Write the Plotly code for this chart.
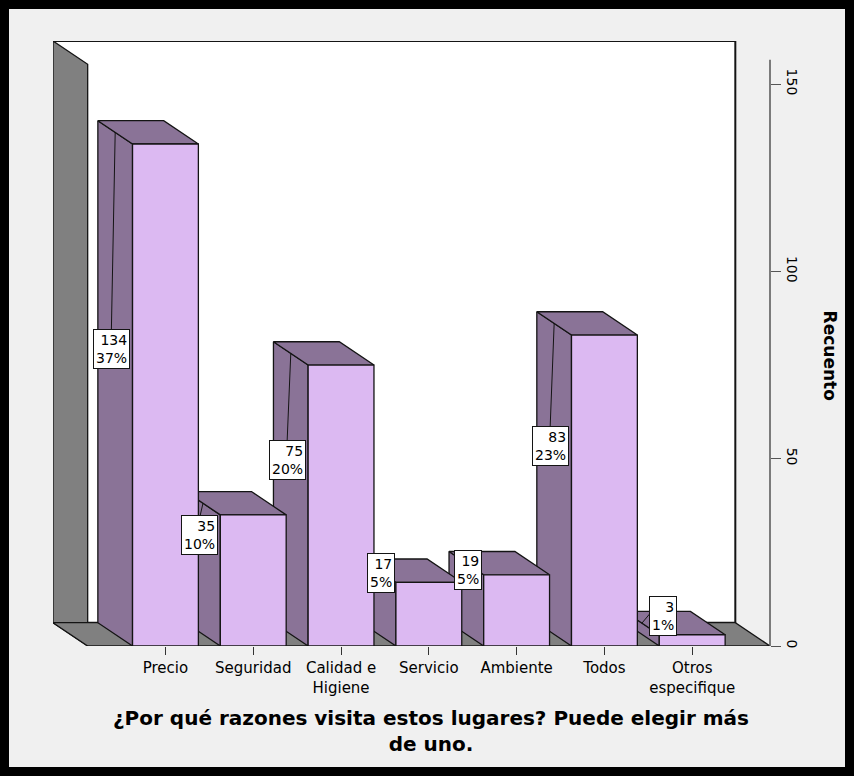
import plotly.graph_objects as go

# ---- data ----
categories = ["Precio", "Seguridad", "Calidad e<br>Higiene", "Servicio",
              "Ambiente", "Todos", "Otros<br>especifique"]
counts = [134, 35, 75, 17, 19, 83, 3]
percents = ["37%", "10%", "20%", "5%", "5%", "23%", "1%"]
y_ticks = [0, 50, 100, 150]

# ---- label placement (layout only) ----
label_dx = [-0.616, -0.608, -0.614, -0.545, -0.557, -0.618, -0.330]
label_y = [79.4, 29.5, 49.7, 19.5, 20.3, 53.5, 7.9]

# ---- geometry / style ----
W = 0.375            # half bar width (category units)
DX, DY = -0.395, 6.22  # oblique depth offset (data units)
X_MIN, X_MAX = -0.886, 6.886
Y_TOP = 161.5
FRONT = "#dcb9f2"
SIDE = "#8a7397"
GRAY = "#808080"
EDGE = "#141414"
FONT = "DejaVu Sans"

fig = go.Figure()


def poly(xs, ys, fill, width=1.3, color=EDGE):
    fig.add_trace(go.Scatter(
        x=xs + [xs[0]], y=ys + [ys[0]], mode="lines", fill="toself",
        fillcolor=fill, line=dict(color=color, width=width),
        hoverinfo="skip", showlegend=False))


# back wall
bx0, bx1 = X_MIN + DX, X_MAX + DX
poly([bx0, bx0, bx1, bx1], [DY, Y_TOP, Y_TOP, DY], "white", 2)
# left wall
poly([X_MIN + DX, X_MIN + DX, X_MIN, X_MIN],
     [DY, Y_TOP, Y_TOP - DY, 0], GRAY)
# floor
poly([X_MIN, X_MAX, X_MAX + DX, X_MIN + DX], [0, 0, DY, DY], GRAY)

# bars, drawn right to left
for i in reversed(range(len(counts))):
    v = counts[i]
    L, R = i - W, i + W
    poly([L, L + DX, L + DX, L], [0, DY, v + DY, v], SIDE)
    poly([L, L + DX, R + DX, R], [v, v + DY, v + DY, v], SIDE)
    poly([L, R, R, L], [0, 0, v, v], FRONT)

# leader lines from labels to bars
for i, v in enumerate(counts):
    L = i - W
    fig.add_trace(go.Scatter(
        x=[L + DX / 2, i + label_dx[i]], y=[v + DY / 2, label_y[i] + 5.0],
        mode="lines", line=dict(color=EDGE, width=1),
        hoverinfo="skip", showlegend=False))

# value labels
for i, (c, p) in enumerate(zip(counts, percents)):
    fig.add_annotation(
        x=i + label_dx[i], y=label_y[i], xref="x", yref="y",
        text=f"{c}<br>{p}", showarrow=False, align="right",
        xanchor="center", yanchor="middle",
        font=dict(family=FONT, size=14, color="black"),
        bgcolor="white", bordercolor=EDGE, borderwidth=1, borderpad=2)

# axis title (right)
fig.add_annotation(
    x=1, y=0.48, xref="paper", yref="paper", xshift=72,
    text="<b>Recuento</b>", textangle=90, showarrow=False,
    font=dict(family=FONT, size=17, color="black"))

# x title (two lines)
fig.add_annotation(
    x=3.03, y=0, xref="x", yref="paper", yshift=-58,
    text="<b>¿Por qué razones visita estos lugares? Puede elegir más<br>de uno.</b>",
    showarrow=False, yanchor="top", align="center",
    font=dict(family=FONT, size=20, color="black"))

# right axis line
fig.add_shape(type="line", xref="paper", yref="y", x0=1, x1=1, y0=0, y1=156.5,
              line=dict(color="#555555", width=1.5))

# outer black frame
pw, ph = 717, 605
fig.add_shape(type="rect", xref="paper", yref="paper",
              x0=(4.5 - 53) / pw, x1=(849.5 - 53) / pw,
              y0=(646 - 771.5) / ph, y1=(646 - 4.5) / ph,
              line=dict(color="black", width=9), layer="above")

fig.update_layout(
    width=854, height=776,
    margin=dict(l=53, r=84, t=41, b=130),
    paper_bgcolor="#f0f0f0", plot_bgcolor="#f0f0f0",
    showlegend=False,
    font=dict(family=FONT, color="black"),
    xaxis=dict(range=[X_MIN + DX, X_MAX], tickvals=list(range(len(categories))),
               ticktext=categories, ticks="outside", ticklen=8,
               tickcolor="#333333", showgrid=False, zeroline=False,
               showline=False, tickfont=dict(family=FONT, size=15, color="black"),
               fixedrange=True),
    yaxis=dict(range=[0, Y_TOP], side="right", tickvals=y_ticks,
               ticks="outside", ticklen=10, tickcolor="#555555",
               tickangle=90, showgrid=False, zeroline=False, showline=False,
               tickfont=dict(family=FONT, size=14, color="black"),
               fixedrange=True),
)

fig.write_html("out.html")
